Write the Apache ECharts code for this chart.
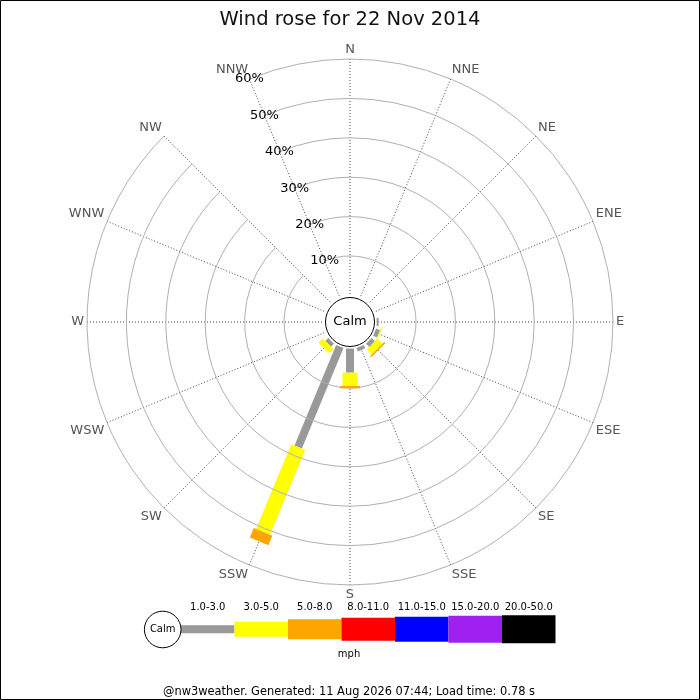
<!DOCTYPE html>
<html>
<head>
<meta charset="utf-8">
<script src="https://cdn.jsdelivr.net/npm/echarts@6/dist/echarts.min.js"></script>
<style>
html, body { margin: 0; padding: 0; background: #fff; }
#rose { width: 700px; height: 700px; }
</style>
</head>
<body>
<div id="rose"></div>
<script>
// compass points, clockwise from north
var directions = ['N','NNE','NE','ENE','E','ESE','SE','SSE','S','SSW','SW','WSW','W','WNW','NW','NNW'];
var speedBins = ['1.0-3.0','3.0-5.0','5.0-8.0','8.0-11.0','11.0-15.0','15.0-20.0','20.0-50.0'];
// % of time per direction, one list per speed bin (mph)
var pct1to3   = [0,0,0,0,0.5,1.1,1.2,0.9,6.1,27.6,1.1,0,0,0,0,0];
var pct3to5   = [0,0,0,0,0,0.3,1.8,0,3.4,23.3,1.5,0,0,0,0,0];
var pct5to8   = [0,0,0,0,0,0,0.4,0,0.6,2.6,0,0,0,0,0,0];
var pct8to11  = [0,0,0,0,0,0,0,0,0,0,0,0,0,0,0,0];
var pct11to15 = [0,0,0,0,0,0,0,0,0,0,0,0,0,0,0,0];
var pct15to20 = [0,0,0,0,0,0,0,0,0,0,0,0,0,0,0,0];
var pct20to50 = [0,0,0,0,0,0,0,0,0,0,0,0,0,0,0,0];
var radiusTicks = [0,10,20,30,40,50,60];

var binValues = [pct1to3, pct3to5, pct5to8, pct8to11, pct11to15, pct15to20, pct20to50];
var binColors = ['#999999','#ffff00','#ffa500','#ff0000','#0000ff','#a020f0','#000000'];
var binWidths = [8, 15, 20, 23, 25, 27, 28];

var CX = 350, CY = 322;
var FONT = 'DejaVu Sans';

// radius axis labels sit on the NNW spoke, so the angle axis starts there
var angleCats = directions.slice(15).concat(directions.slice(0, 15));

var chart = echarts.init(document.getElementById('rose'));

function barRenderer(bin) {
    return function (params, api) {
        var lo = api.value(0), hi = api.value(1), dir = api.value(2);
        if (!(hi > lo)) return;
        var a = api.coord([lo, dir]);
        var b = api.coord([hi, dir]);
        var ang = a[3];
        var hw = binWidths[bin] / 2;
        var nx = Math.sin(ang) * hw, ny = Math.cos(ang) * hw;
        return {
            type: 'polygon',
            shape: { points: [
                [a[0] + nx, a[1] + ny], [b[0] + nx, b[1] + ny],
                [b[0] - nx, b[1] - ny], [a[0] - nx, a[1] - ny]
            ] },
            style: { fill: binColors[bin] }
        };
    };
}

var series = [];
var base = directions.map(function () { return 0; });
binValues.forEach(function (vals, bin) {
    var data = [];
    vals.forEach(function (v, i) {
        var idx = (i + 1) % 16;
        data.push([base[i], base[i] + v, idx]);
        base[i] += v;
    });
    series.push({
        name: speedBins[bin],
        type: 'custom',
        coordinateSystem: 'polar',
        renderItem: barRenderer(bin),
        encode: { radius: [0, 1], angle: 2 },
        data: data,
        z: 5 + bin
    });
});

// frame, calm circles, legend strip, footer
var graphics = [
    { type: 'rect', z: 200, shape: { x: 0.5, y: 0.5, width: 699, height: 699 },
      style: { fill: null, stroke: '#000', lineWidth: 1 } },
    { type: 'circle', z: 100, shape: { cx: CX, cy: CY, r: 24.5 },
      style: { fill: '#fff', stroke: '#000', lineWidth: 1 } },
    { type: 'text', z: 101, x: CX, y: CY,
      style: { text: 'Calm', fill: '#000', font: '13px "' + FONT + '"', align: 'center', verticalAlign: 'middle' } },
    { type: 'circle', z: 100, shape: { cx: 162.7, cy: 629.5, r: 18.3 },
      style: { fill: '#fff', stroke: '#000', lineWidth: 1 } },
    { type: 'text', z: 101, x: 162.7, y: 629.5,
      style: { text: 'Calm', fill: '#000', font: '10px "' + FONT + '"', align: 'center', verticalAlign: 'middle' } },
    { type: 'text', z: 101, x: 349, y: 654,
      style: { text: 'mph', fill: '#000', font: '10px "' + FONT + '"', align: 'center', verticalAlign: 'middle' } },
    { type: 'text', z: 101, x: 349, y: 692,
      style: { text: '@nw3weather. Generated: 11 Aug 2026 07:44; Load time: 0.78 s', fill: '#000',
               font: '11.4px "' + FONT + '"', align: 'center', verticalAlign: 'middle' } }
];
var legX = 181, legW = 53.5, legCY = 629.3;
speedBins.forEach(function (label, i) {
    graphics.push({ type: 'rect', z: 99,
        shape: { x: legX + i * legW, y: legCY - binWidths[i] / 2, width: legW, height: binWidths[i] },
        style: { fill: binColors[i] } });
    graphics.push({ type: 'text', z: 101, x: legX + i * legW + legW / 2, y: 607,
        style: { text: label, fill: '#000', font: '10px "' + FONT + '"', align: 'center', verticalAlign: 'middle' } });
});

chart.setOption({
    animation: false,
    backgroundColor: '#fff',
    title: {
        text: 'Wind rose for 22 Nov 2014',
        left: 'center',
        top: 5,
        textStyle: { fontFamily: FONT, fontSize: 19.5, fontWeight: 'normal', color: '#111' }
    },
    polar: { center: [CX, CY], radius: [26.6, 263] },
    angleAxis: {
        type: 'category',
        data: angleCats,
        startAngle: 112.5,
        clockwise: true,
        boundaryGap: false,
        axisLine: { show: false },
        axisTick: { show: false },
        axisLabel: { color: '#555', fontFamily: FONT, fontSize: 13, margin: 3 },
        splitLine: { show: true, lineStyle: { color: '#444', type: [1, 2], width: 1 } }
    },
    radiusAxis: {
        type: 'value',
        min: radiusTicks[0],
        max: radiusTicks[radiusTicks.length - 1],
        interval: 10,
        axisLine: { show: false },
        axisTick: { show: false },
        axisLabel: {
            showMinLabel: false, formatter: '{value}%', color: '#000',
            fontFamily: FONT, fontSize: 13, margin: 0, align: 'center', verticalAlign: 'middle'
        },
        splitLine: { show: true, lineStyle: {
            color: ['rgba(0,0,0,0)', '#b0b0b0', '#b0b0b0', '#b0b0b0', '#b0b0b0', '#b0b0b0', '#b0b0b0'],
            width: 1 } },
        z: 50
    },
    series: series,
    graphic: graphics
});
</script>
</body>
</html>
